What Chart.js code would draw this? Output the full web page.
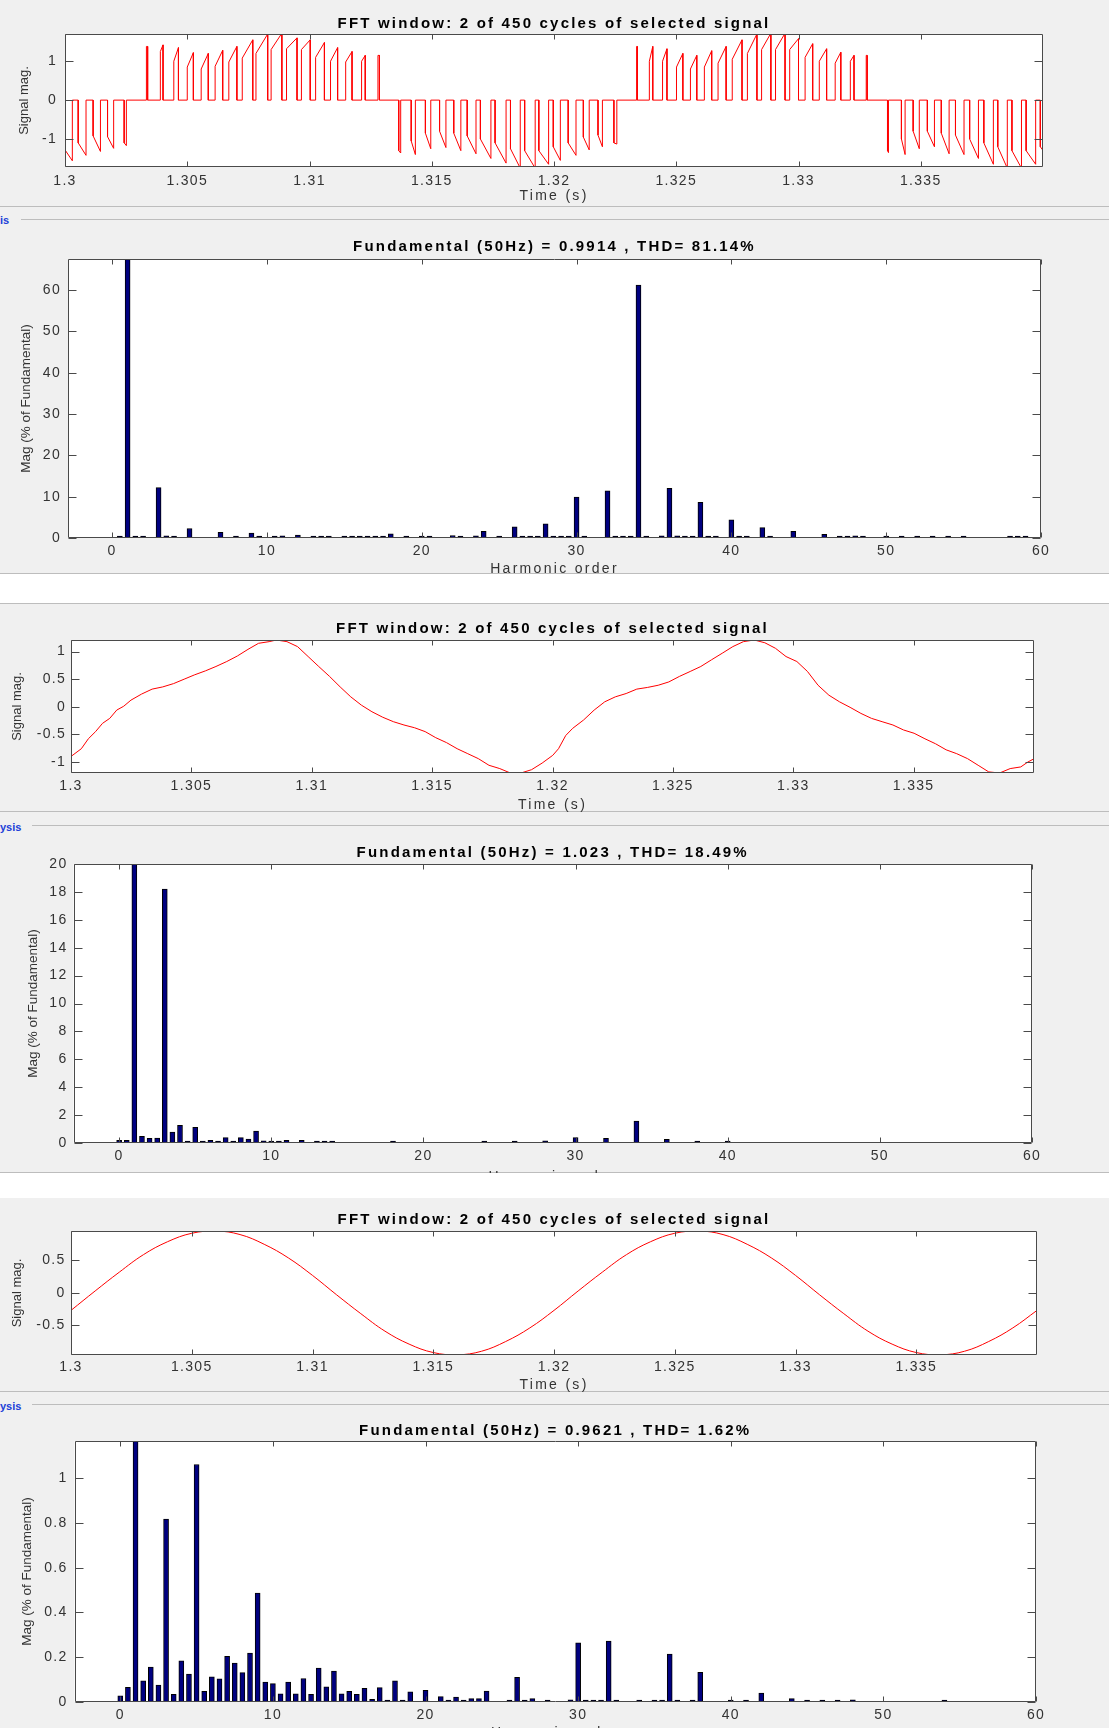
<!DOCTYPE html>
<html>
<head>
<meta charset="utf-8">
<title>FFT analysis</title>
<script src="https://cdn.jsdelivr.net/npm/chart.js@4.4.1/dist/chart.umd.min.js"></script>
<style>
  html, body { margin: 0; padding: 0; }
  body { position: relative; width: 1109px; height: 1728px; overflow: hidden; background: #ffffff; font-family: "Liberation Sans", Arial, sans-serif; }
  .panel { position: absolute; left: 0; width: 1109px; background: #f0f0f0; }
  .rule { position: absolute; height: 1px; background: #bdbdbd; }
  .tag { position: absolute; left: 0; font-size: 11px; font-weight: bold; color: #2140d8; line-height: 12px; }
  canvas { position: absolute; left: 0; }
</style>
</head>
<body>
<div class="panel" style="top:0; height:574px;"></div>
<div class="panel" style="top:603px; height:570px;"></div>
<div class="panel" style="top:1198px; height:530px;"></div>

<div class="rule" style="top:206px; left:0; width:1109px;"></div>
<div class="rule" style="top:219px; left:21px; width:1088px;"></div>
<div class="tag" style="top:214px;">is</div>
<div class="rule" style="top:573px; left:0; width:1109px;"></div>
<div class="rule" style="top:603px; left:0; width:1109px;"></div>
<div class="rule" style="top:811px; left:0; width:1109px;"></div>
<div class="rule" style="top:825px; left:32px; width:1077px;"></div>
<div class="tag" style="top:821px;">ysis</div>
<div class="rule" style="top:1172px; left:0; width:1109px;"></div>
<div class="rule" style="top:1391px; left:0; width:1109px;"></div>
<div class="rule" style="top:1404px; left:32px; width:1077px;"></div>
<div class="tag" style="top:1400px;">ysis</div>

<canvas id="sig1"></canvas>
<canvas id="fft1"></canvas>
<canvas id="sig2"></canvas>
<canvas id="fft2"></canvas>
<canvas id="sig3"></canvas>
<canvas id="fft3"></canvas>

<script>
// ---- text ----
const signalTitle = "FFT window: 2 of 450 cycles of selected signal";
const fftTitles = [
  "Fundamental (50Hz) = 0.9914 , THD= 81.14%",
  "Fundamental (50Hz) = 1.023 , THD= 18.49%",
  "Fundamental (50Hz) = 0.9621 , THD= 1.62%"
];

// ---- tick labels ----
const timeTicks = [1.3, 1.305, 1.31, 1.315, 1.32, 1.325, 1.33, 1.335];
const orderTicks = [0, 10, 20, 30, 40, 50, 60];
const sig1Ticks = [-1, 0, 1];
const sig2Ticks = [-1, -0.5, 0, 0.5, 1];
const sig3Ticks = [-0.5, 0, 0.5];
const fft1Ticks = [0, 10, 20, 30, 40, 50, 60];
const fft2Ticks = [0, 2, 4, 6, 8, 10, 12, 14, 16, 18, 20];
const fft3Ticks = [0, 0.2, 0.4, 0.6, 0.8, 1];

// ---- signal 1: PWM pulses (start s, end s, value at start, value at end) ----
const sig1Start = [
  1.30000, 1.30054, 1.30115, 1.30174, 1.30242,
  1.30333, 1.30390, 1.30445, 1.30500, 1.30557, 1.30614, 1.30670, 1.30725, 1.30781, 1.30843, 1.30906, 1.30967, 1.31025, 1.31086, 1.31148, 1.31213, 1.31280,
  1.31365, 1.31416, 1.31474, 1.31532, 1.31590, 1.31645, 1.31699, 1.31759, 1.31822, 1.31880, 1.31938, 1.31997, 1.32058, 1.32120, 1.32180, 1.32245,
  1.32338, 1.32390, 1.32444, 1.32501, 1.32558, 1.32615, 1.32671, 1.32729, 1.32791, 1.32849, 1.32906, 1.32964, 1.33027, 1.33085, 1.33150, 1.33212, 1.33277,
  1.33364, 1.33421, 1.33469, 1.33527, 1.33584, 1.33642, 1.33700, 1.33758, 1.33815, 1.33873, 1.33931, 1.33989
];
const sig1End = [
  1.30030, 1.30086, 1.30145, 1.30199, 1.30251,
  1.30338, 1.30401, 1.30464, 1.30525, 1.30586, 1.30645, 1.30703, 1.30768, 1.30829, 1.30887, 1.30949, 1.31003, 1.31061, 1.31115, 1.31174, 1.31228, 1.31286,
  1.31373, 1.31433, 1.31496, 1.31558, 1.31619, 1.31681, 1.31742, 1.31804, 1.31862, 1.31923, 1.31978, 1.32026, 1.32090, 1.32144, 1.32198, 1.32257,
  1.32341, 1.32404, 1.32462, 1.32527, 1.32584, 1.32645, 1.32704, 1.32769, 1.32830, 1.32887, 1.32945, 1.33000, 1.33058, 1.33115, 1.33173, 1.33227, 1.33281,
  1.33368, 1.33436, 1.33494, 1.33556, 1.33616, 1.33677, 1.33736, 1.33797, 1.33854, 1.33912, 1.33970, 1.34030
];
const sig1From = [
  -1.28, -1.10, -0.92, -0.94, -1.10,
  1.38, 1.25, 1.00, 0.85, 0.80, 0.87, 0.98, 1.08, 1.20, 1.30, 1.32, 1.30, 1.10, 1.00, 0.98, 1.00, 1.15,
  -1.30, -1.05, -0.85, -0.80, -0.85, -0.92, -1.00, -1.10, -1.25, -1.30, -1.30, -1.20, -1.10, -0.95, -0.90, -1.10,
  1.38, 1.00, 1.00, 0.85, 0.80, 0.85, 0.95, 1.05, 1.20, 1.30, 1.30, 1.30, 1.10, 1.00, 0.95, 1.00, 1.15,
  -1.30, -1.00, -0.80, -0.80, -0.85, -0.90, -1.00, -1.10, -1.20, -1.30, -1.30, -1.20
];
const sig1To = [
  -1.56, -1.42, -1.32, -1.24, -1.17,
  1.38, 1.42, 1.35, 1.22, 1.20, 1.28, 1.38, 1.55, 1.70, 1.72, 1.60, 1.55, 1.48, 1.35, 1.25, 1.15, 1.15,
  -1.36, -1.40, -1.25, -1.22, -1.30, -1.38, -1.50, -1.62, -1.75, -1.75, -1.65, -1.55, -1.42, -1.28, -1.20, -1.13,
  1.38, 1.38, 1.32, 1.20, 1.15, 1.27, 1.38, 1.55, 1.70, 1.72, 1.72, 1.58, 1.45, 1.32, 1.23, 1.15, 1.15,
  -1.35, -1.40, -1.25, -1.20, -1.38, -1.40, -1.50, -1.65, -1.75, -1.75, -1.65, -1.55
];

// ---- signal 2 ----
const sig2Time = [
  1.30000, 1.30043, 1.30072, 1.30102, 1.30131, 1.30161, 1.30190, 1.30219, 1.30249, 1.30293,
  1.30337, 1.30381, 1.30426, 1.30470, 1.30514, 1.30558, 1.30602, 1.30647, 1.30691, 1.30735,
  1.30779, 1.30823, 1.30853, 1.30897, 1.30941, 1.30985, 1.31029, 1.31074, 1.31118, 1.31162,
  1.31206, 1.31250, 1.31295, 1.31339, 1.31383, 1.31427, 1.31471, 1.31515, 1.31560, 1.31604,
  1.31648, 1.31692, 1.31736, 1.31781, 1.31825, 1.31869, 1.31913, 1.31957, 1.32001,
  1.32025, 1.32055, 1.32084, 1.32129, 1.32173, 1.32217, 1.32261, 1.32306, 1.32350, 1.32394,
  1.32439, 1.32483, 1.32527, 1.32572, 1.32616, 1.32660, 1.32705, 1.32749, 1.32793, 1.32838,
  1.32882, 1.32926, 1.32970, 1.33015, 1.33059, 1.33103, 1.33148, 1.33192, 1.33236, 1.33281,
  1.33325, 1.33369, 1.33414, 1.33458, 1.33502, 1.33547, 1.33591, 1.33635, 1.33679, 1.33724,
  1.33768, 1.33812, 1.33857, 1.33901, 1.33945, 1.33975, 1.34001
];
const sig2Value = [
  -0.90, -0.76, -0.58, -0.45, -0.30, -0.21, -0.06, 0.01, 0.12, 0.23,
  0.32, 0.36, 0.42, 0.50, 0.58, 0.65, 0.73, 0.82, 0.92, 1.04,
  1.15, 1.18, 1.21, 1.18, 1.09, 0.91, 0.73, 0.55, 0.36, 0.18,
  0.03, -0.09, -0.19, -0.27, -0.33, -0.38, -0.45, -0.56, -0.65, -0.76,
  -0.85, -0.94, -1.06, -1.12, -1.20, -1.20, -1.14, -1.02, -0.88,
  -0.76, -0.52, -0.39, -0.24, -0.06, 0.09, 0.18, 0.24, 0.32, 0.35,
  0.39, 0.45, 0.55, 0.64, 0.73, 0.85, 0.97, 1.09, 1.18, 1.21,
  1.16, 1.06, 0.91, 0.82, 0.64, 0.39, 0.21, 0.09, -0.01, -0.12,
  -0.21, -0.27, -0.33, -0.42, -0.48, -0.58, -0.67, -0.78, -0.85, -0.94,
  -1.06, -1.18, -1.20, -1.12, -1.09, -1.00, -0.94
];

// ---- signal 3 ----
const sig3Time = [
  1.300, 1.301, 1.302, 1.303, 1.304, 1.305, 1.306, 1.307, 1.308, 1.309,
  1.310, 1.311, 1.312, 1.313, 1.314, 1.315, 1.316, 1.317, 1.318, 1.319,
  1.320, 1.321, 1.322, 1.323, 1.324, 1.325, 1.326, 1.327, 1.328, 1.329,
  1.330, 1.331, 1.332, 1.333, 1.334, 1.335, 1.336, 1.337, 1.338, 1.339, 1.340
];
const sig3Value = [
  -0.27, 0.03, 0.32, 0.59, 0.79, 0.92, 0.955, 0.90, 0.75, 0.54,
  0.27, -0.03, -0.32, -0.59, -0.79, -0.92, -0.955, -0.90, -0.75, -0.54,
  -0.27, 0.03, 0.32, 0.59, 0.79, 0.92, 0.955, 0.90, 0.75, 0.54,
  0.27, -0.03, -0.32, -0.59, -0.79, -0.92, -0.955, -0.90, -0.75, -0.54, -0.27
];

// ---- spectra: harmonic order and magnitude (% of fundamental) ----
const fft1Order = [0.5, 1, 1.5, 2, 3, 3.5, 4, 5, 7, 8, 9, 9.5, 10.5, 11, 12, 13, 13.5, 14, 15, 15.5,
  16, 16.5, 17, 17.5, 18, 19, 20, 20.5, 22, 22.5, 23.5, 24, 25, 26, 26.5, 27, 27.5, 28, 28.5, 29,
  29.5, 30, 30.5, 32, 32.5, 33, 33.5, 34, 34.5, 35.5, 36, 36.5, 37, 37.5, 38, 38.5, 39, 40, 40.5, 41,
  42, 42.5, 44, 46, 47, 47.5, 48, 48.5, 50, 51, 52, 53, 54, 55, 58, 58.5, 59];
const fft1Mag = [0.2, 100, 0.3, 0.3, 12.2, 0.5, 0.4, 2.3, 1.4, 0.3, 1.2, 0.4, 0.2, 0.5, 0.7, 0.3, 0.4, 0.4, 0.2, 0.2,
  0.2, 0.2, 0.2, 0.2, 1.0, 0.4, 0.4, 0.3, 0.6, 0.3, 0.5, 1.6, 0.3, 2.7, 0.3, 0.3, 0.3, 3.4, 0.3, 0.3,
  0.3, 9.9, 0.3, 11.4, 0.3, 0.3, 0.3, 61.2, 0.3, 0.5, 12.0, 0.5, 0.3, 0.3, 8.6, 0.3, 0.3, 4.4, 0.3, 0.3,
  2.5, 0.3, 1.6, 0.9, 0.2, 0.3, 0.5, 0.3, 0.2, 0.2, 0.4, 0.2, 0.4, 0.4, 0.4, 0.3, 0.3];

const fft2Order = [0, 0.5, 1, 1.5, 2, 2.5, 3, 3.5, 4, 4.5, 5, 5.5, 6, 6.5, 7, 7.5, 8, 8.5, 9, 9.5,
  10, 10.5, 11, 12, 13, 13.5, 14, 18, 24, 26, 28, 30, 32, 34, 36, 38, 40];
const fft2Mag = [0.2, 0.2, 100, 0.48, 0.33, 0.35, 18.2, 0.79, 1.27, 0.1, 1.12, 0.1, 0.2, 0.1, 0.38, 0.1, 0.38, 0.28, 0.86, 0.15,
  0.05, 0.05, 0.2, 0.2, 0.05, 0.05, 0.05, 0.05, 0.05, 0.05, 0.15, 0.38, 0.33, 1.58, 0.26, 0.14, 0.05];

const fft3Order = [0, 0.5, 1, 1.5, 2, 2.5, 3, 3.5, 4, 4.5, 5, 5.5, 6, 6.5, 7, 7.5, 8, 8.5, 9, 9.5,
  10, 10.5, 11, 11.5, 12, 12.5, 13, 13.5, 14, 14.5, 15, 15.5, 16, 16.5, 17, 17.5, 18, 18.5, 19, 20,
  21, 21.5, 22, 22.5, 23, 23.5, 24, 25.5, 26, 26.5, 27, 28, 29.5, 30, 30.5, 31, 31.5, 32, 32.5, 34,
  35, 35.5, 36, 36.5, 37.5, 38, 40, 41, 42, 44, 45, 46, 47, 48, 54];
const fft3Mag = [0.028, 0.065, 100, 0.095, 0.156, 0.076, 0.817, 0.034, 0.184, 0.125, 1.061, 0.048, 0.113, 0.103, 0.204, 0.174, 0.131, 0.218, 0.487, 0.089,
  0.082, 0.037, 0.089, 0.037, 0.105, 0.034, 0.152, 0.068, 0.138, 0.037, 0.048, 0.034, 0.061, 0.012, 0.064, 0.007, 0.095, 0.007, 0.045, 0.052,
  0.024, 0.004, 0.022, 0.006, 0.015, 0.015, 0.049, 0.004, 0.110, 0.004, 0.015, 0.007, 0.010, 0.264, 0.004, 0.004, 0.004, 0.272, 0.004, 0.004,
  0.004, 0.004, 0.214, 0.004, 0.004, 0.132, 0.004, 0.004, 0.040, 0.015, 0.004, 0.004, 0.004, 0.010, 0.004];

// ---- look ----
const FONT = '"Liberation Sans", Arial, sans-serif';
const INK = "#333333";
const RED = "#ff0000";

// MATLAB-ish axes: white plot box, dark frame, ticks pointing inward
const matlabLook = {
  id: "matlabLook",
  afterLayout(chart, args, o) {
    const ctx = chart.ctx;
    const wrap = (obj, name, spacing) => {
      if (!obj || obj["_ls_" + name]) return;
      const orig = obj[name];
      obj[name] = function (...a) {
        const prev = ctx.letterSpacing;
        ctx.letterSpacing = spacing;
        const r = orig.apply(this, a);
        ctx.letterSpacing = prev;
        return r;
      };
      obj["_ls_" + name] = true;
    };
    wrap(chart.titleBlock, "draw", o.titleSpacing);
    wrap(chart.scales.x, "drawTitle", o.xTitleSpacing);
    wrap(chart.scales.y, "drawTitle", "0px");
    wrap(chart.scales.x, "drawLabels", o.tickSpacing);
    wrap(chart.scales.y, "drawLabels", o.tickSpacing);
  },
  beforeDraw(chart) {
    const { ctx, chartArea: a } = chart;
    ctx.save();
    ctx.fillStyle = "#ffffff";
    ctx.fillRect(a.left, a.top, a.right - a.left, a.bottom - a.top);
    ctx.restore();
  },
  afterDatasetsDraw(chart, args, o) {
    const { ctx, chartArea: a, scales: { x, y } } = chart;
    const L = Math.round(a.left) + 0.5, R = Math.round(a.right) - 0.5;
    const T = Math.round(a.top) + 0.5, B = Math.round(a.bottom) - 0.5;
    ctx.save();
    ctx.strokeStyle = "#4a4a4a";
    ctx.lineWidth = 1;
    ctx.beginPath();
    ctx.rect(L, T, R - L, B - T);
    x.ticks.forEach((t) => {
      const p = Math.round(x.getPixelForValue(t.value)) + 0.5;
      ctx.moveTo(p, B); ctx.lineTo(p, B - o.xTickLen);
      ctx.moveTo(p, T); ctx.lineTo(p, T + o.xTickLen);
    });
    y.ticks.forEach((t) => {
      const p = Math.round(y.getPixelForValue(t.value)) + 0.5;
      ctx.moveTo(L, p); ctx.lineTo(L + o.yTickLen, p);
      ctx.moveTo(R, p); ctx.lineTo(R - o.yTickLen, p);
    });
    ctx.stroke();
    ctx.restore();
  }
};

// g: canvas top/height, plot box [left, top, right, bottom] in page px, text anchor positions
function makePanel(id, g, type, datasets, xAx, yAx, texts) {
  const cv = document.getElementById(id);
  cv.style.top = g.top + "px";
  cv.width = 1109;
  cv.height = g.height;
  const relT = g.plot[1] - g.top;
  const relB = g.plot[3] - g.top;
  const titlePadTop = g.titleY - g.top - 7.5;
  const ySize = texts.ySize;

  return new Chart(cv, {
    type: type,
    data: { datasets: datasets },
    plugins: [matlabLook],
    options: {
      responsive: false,
      animation: false,
      events: [],
      layout: { padding: { left: 0, top: 0, bottom: 0, right: 1109 - g.plot[2] } },
      plugins: {
        legend: { display: false },
        tooltip: { enabled: false },
        title: {
          display: true,
          text: texts.title,
          fullSize: false,
          color: "#000000",
          font: { family: FONT, size: 15, weight: "bold", lineHeight: 1 },
          padding: { top: titlePadTop, bottom: relT - titlePadTop - 15 }
        },
        matlabLook: {
          titleSpacing: "2.2px",
          xTitleSpacing: "2.3px",
          tickSpacing: "1.3px",
          xTickLen: 5,
          yTickLen: 8
        }
      },
      scales: {
        x: {
          type: "linear",
          offset: false,
          min: xAx.min,
          max: xAx.max,
          grid: { display: false, drawTicks: false },
          border: { display: false },
          afterBuildTicks: (s) => { s.ticks = xAx.ticks.map((v) => ({ value: v })); },
          afterFit: (s) => { s.height = g.height - relB; },
          ticks: {
            autoSkip: false, maxRotation: 0, minRotation: 0,
            padding: g.xLabelY - g.plot[3] - 7,
            color: INK,
            font: { family: FONT, size: 14, lineHeight: 1 },
            callback: (v) => String(v)
          },
          title: {
            display: true,
            text: texts.x,
            color: INK,
            font: { family: FONT, size: 14, lineHeight: 1 },
            padding: { top: 0, bottom: (g.top + g.height - g.xTitleY) - 7 }
          }
        },
        y: {
          type: "linear",
          min: yAx.min,
          max: yAx.max,
          grid: { display: false, drawTicks: false },
          border: { display: false },
          afterBuildTicks: (s) => { s.ticks = yAx.ticks.map((v) => ({ value: v })); },
          afterFit: (s) => { s.width = g.plot[0]; },
          ticks: {
            autoSkip: false,
            padding: g.yLabelPad,
            color: INK,
            font: { family: FONT, size: 14, lineHeight: 1 },
            callback: (v) => String(v)
          },
          title: {
            display: true,
            text: texts.y,
            color: INK,
            font: { family: FONT, size: ySize, lineHeight: 1 },
            padding: { top: g.yTitleX - ySize / 2, bottom: 0 }
          }
        }
      }
    }
  });
}

function lineSet(points, tension) {
  return {
    data: points,
    borderColor: RED,
    borderWidth: 1,
    pointRadius: 0,
    tension: tension,
    fill: false
  };
}

function barSet(orders, mags) {
  return {
    data: orders.map((h, i) => ({ x: h, y: mags[i] })),
    backgroundColor: "#000080",
    borderColor: "#000000",
    borderWidth: 1,
    barThickness: 5,
    minBarLength: 2
  };
}

// build point lists from the arrays
const sig1Points = [];
sig1Start.forEach((t0, i) => {
  sig1Points.push({ x: t0, y: 0 }, { x: t0, y: sig1From[i] }, { x: sig1End[i], y: sig1To[i] }, { x: sig1End[i], y: 0 });
});
const sig2Points = sig2Time.map((t, i) => ({ x: t, y: sig2Value[i] }));
const sig3Points = sig3Time.map((t, i) => ({ x: t, y: sig3Value[i] }));

const timeAxis = { min: 1.3, max: 1.34, ticks: timeTicks };

makePanel("sig1",
  { top: 0, height: 210, plot: [65, 34, 1043, 167], titleY: 23.5, xLabelY: 181.5, xTitleY: 196, yTitleX: 24.7, yLabelPad: 8 },
  "line", [lineSet(sig1Points, 0)], timeAxis, { min: -1.72, max: 1.70, ticks: sig1Ticks },
  { title: signalTitle, x: "Time (s)", y: "Signal mag.", ySize: 13 });

makePanel("fft1",
  { top: 226, height: 352, plot: [68, 259, 1041, 538], titleY: 247, xLabelY: 551, xTitleY: 569, yTitleX: 26, yLabelPad: 7 },
  "bar", [barSet(fft1Order, fft1Mag)], { min: -2.85, max: 60, ticks: orderTicks }, { min: 0, max: 67.5, ticks: fft1Ticks },
  { title: fftTitles[0], x: "Harmonic order", y: "Mag (% of Fundamental)", ySize: 13.5 });

makePanel("sig2",
  { top: 604, height: 210, plot: [71, 640, 1034, 773], titleY: 629, xLabelY: 786.5, xTitleY: 805, yTitleX: 17.1, yLabelPad: 5 },
  "line", [lineSet(sig2Points, 0)], timeAxis, { min: -1.2, max: 1.21, ticks: sig2Ticks },
  { title: signalTitle, x: "Time (s)", y: "Signal mag.", ySize: 13 });

makePanel("fft2",
  { top: 830, height: 343, plot: [73.5, 864, 1032, 1143], titleY: 852.8, xLabelY: 1156, xTitleY: 1177, yTitleX: 33.2, yLabelPad: 6 },
  "bar", [barSet(fft2Order, fft2Mag)], { min: -3, max: 60, ticks: orderTicks }, { min: 0, max: 20, ticks: fft2Ticks },
  { title: fftTitles[1], x: "Harmonic order", y: "Mag (% of Fundamental)", ySize: 13.5 });

makePanel("sig3",
  { top: 1198, height: 197, plot: [71, 1231, 1037, 1355], titleY: 1220, xLabelY: 1367.5, xTitleY: 1385.3, yTitleX: 17.5, yLabelPad: 5.5 },
  "line", [lineSet(sig3Points, 0.4)], timeAxis, { min: -0.958, max: 0.955, ticks: sig3Ticks },
  { title: signalTitle, x: "Time (s)", y: "Signal mag.", ySize: 13 });

makePanel("fft3",
  { top: 1410, height: 330, plot: [74.5, 1441, 1036, 1702], titleY: 1430.5, xLabelY: 1715, xTitleY: 1733, yTitleX: 27, yLabelPad: 7 },
  "bar", [barSet(fft3Order, fft3Mag)], { min: -3, max: 60, ticks: orderTicks }, { min: 0, max: 1.166, ticks: fft3Ticks },
  { title: fftTitles[2], x: "Harmonic order", y: "Mag (% of Fundamental)", ySize: 13.5 });
</script>
</body>
</html>
